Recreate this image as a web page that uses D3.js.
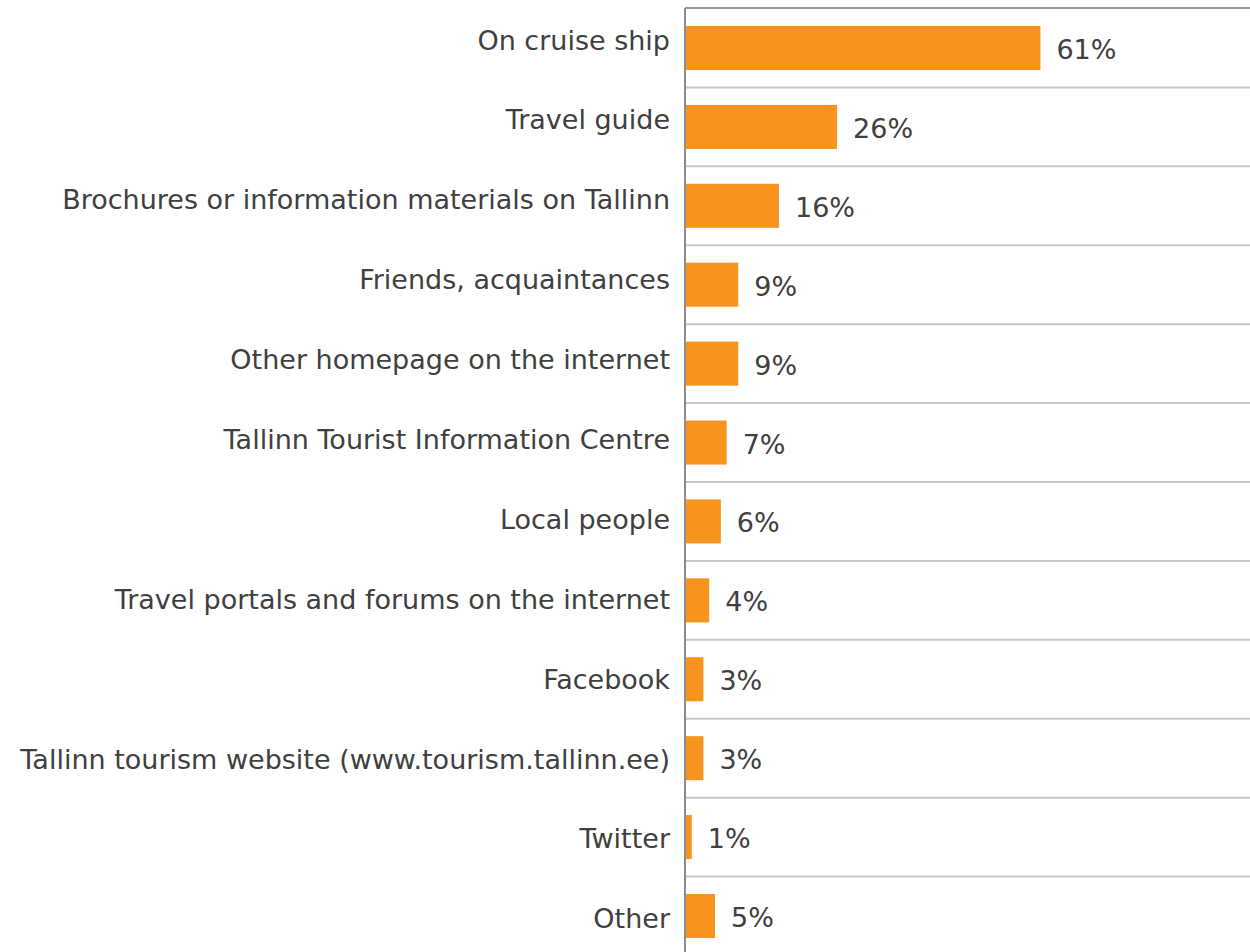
<!DOCTYPE html>
<html>
<head>
<meta charset="utf-8">
<script src="https://cdn.jsdelivr.net/npm/d3@7"></script>
<style>
  html, body { margin: 0; padding: 0; background: #fff; }
  svg { display: block; }
  text { font-family: "DejaVu Sans", Verdana, sans-serif; font-size: 27px; fill: #404040; }
</style>
</head>
<body>
<svg id="chart" width="1250" height="952"></svg>
<script>
// Sources of information used (share of respondents, %)
const categories = [
  "On cruise ship",
  "Travel guide",
  "Brochures or information materials on Tallinn",
  "Friends, acquaintances",
  "Other homepage on the internet",
  "Tallinn Tourist Information Centre",
  "Local people",
  "Travel portals and forums on the internet",
  "Facebook",
  "Tallinn tourism website (www.tourism.tallinn.ee)",
  "Twitter",
  "Other"
];
const values = [61, 26, 16, 9, 9, 7, 6, 4, 3, 3, 1, 5];

const svg = d3.select("#chart");
const axisX = 686;
const plotTop = 8;

const x = d3.scaleLinear().domain([0, 100]).range([axisX, axisX + 581]);
const y = d3.scaleBand()
  .domain(categories)
  .range([plotTop, 956])
  .paddingInner(0.442)
  .paddingOuter(0.228);

// category label baselines run on their own slightly wider spacing
const yLabel = d3.scalePoint()
  .domain(categories)
  .range([49.5, 928.3]);

const half = y.step() * y.paddingInner() / 2;

// band separators
svg.append("g")
  .selectAll("line")
  .data(categories.slice(1))
  .join("line")
  .attr("x1", axisX)
  .attr("x2", 1250)
  .attr("y1", d => y(d) - half)
  .attr("y2", d => y(d) - half)
  .attr("stroke", "#c8c8c8")
  .attr("stroke-width", 2);

// top frame line
svg.append("line")
  .attr("x1", axisX - 1).attr("x2", 1250)
  .attr("y1", plotTop).attr("y2", plotTop)
  .attr("stroke", "#9a9a9a")
  .attr("stroke-width", 2);

// bars
svg.append("g")
  .selectAll("rect")
  .data(values)
  .join("rect")
  .attr("x", x(0))
  .attr("y", (d, i) => y(categories[i]))
  .attr("width", d => x(d) - x(0))
  .attr("height", y.bandwidth())
  .attr("fill", "#F7941E");

// vertical axis line
svg.append("line")
  .attr("x1", axisX - 1).attr("x2", axisX - 1)
  .attr("y1", plotTop).attr("y2", 952)
  .attr("stroke", "#8c8c8c")
  .attr("stroke-width", 2);

// category labels
svg.append("g")
  .selectAll("text")
  .data(categories)
  .join("text")
  .attr("x", axisX - 16)
  .attr("y", d => yLabel(d))
  .attr("text-anchor", "end")
  .text(d => d);

// value labels
svg.append("g")
  .selectAll("text")
  .data(values)
  .join("text")
  .attr("x", d => x(d) + 16)
  .attr("y", (d, i) => y(categories[i]) + y.bandwidth() / 2 + 11)
  .text(d => d + "%");
</script>
</body>
</html>
